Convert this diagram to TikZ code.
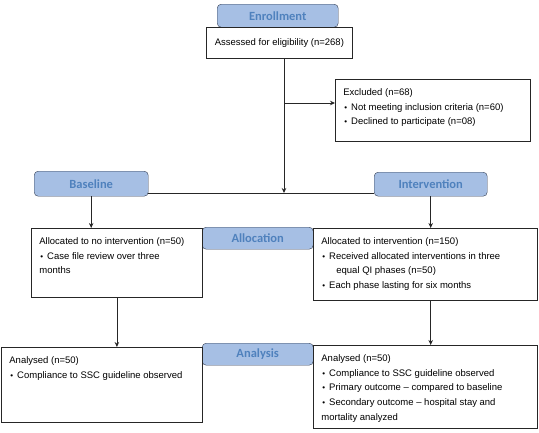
\documentclass[tikz,border=0pt]{standalone}
\usepackage{fontspec}
\usetikzlibrary{arrows.meta}
\setmainfont{Liberation Sans}
\newfontfamily\tabfont{Carlito}
\definecolor{tabfill}{RGB}{166,191,228}
\definecolor{tabtext}{RGB}{79,129,189}
\definecolor{tabline}{RGB}{55,65,85}
\newcommand{\flowtext}[3]{\parbox[t][#2][t]{#1}{\raggedright\fontsize{9.5}{14.7}\selectfont\rule{0pt}{12pt}#3}}
\newcommand{\bul}{\hspace{1pt}{\footnotesize\textbullet}\hspace{4pt}}
\begin{document}
\begin{tikzpicture}[x=1pt,y=-1pt,
  tab/.style={draw=tabline,fill=tabfill,rounded corners=4pt,anchor=north west,inner sep=0pt,
    text=tabtext,font=\tabfont\bfseries\fontsize{12.5}{14}\selectfont},
  panel/.style={draw=black!85,fill=white,anchor=north west,inner xsep=8pt,inner ysep=4pt,line width=0.8pt},
  flow/.style={-{Stealth[length=5pt,width=4.5pt]},line width=0.8pt,black!85}]
  \useasboundingbox (0,0) rectangle (539,432);

  % enrollment
  \node[tab,minimum width=121pt,minimum height=23pt] (enrol) at (217,4) {Enrollment};
  \node[panel,inner sep=0pt,minimum width=146pt,minimum height=31pt] (assess) at (206,27)
    {\fontsize{9.5}{14}\selectfont Assessed for eligibility (n=268)};
  \node[panel] (excl) at (335,79) {\flowtext{179pt}{54pt}{Excluded (n=68)\\
    \bul Not meeting inclusion criteria (n=60)\\
    \bul Declined to participate (n=08)}};

  \coordinate (split) at (284,193);
  \coordinate (branch) at (284,103);
  \draw[flow] (assess.south -| split) -- (split);
  \draw[flow] (branch) -- (branch -| excl.west);

  % allocation
  \node[tab,minimum width=114pt,minimum height=25pt] (base) at (34,171) {Baseline};
  \node[tab,minimum width=113pt,minimum height=24pt] (intv) at (374,172) {Intervention};
  \draw[line width=0.8pt,black!85] (base.east |- split) -- (intv.west |- split);

  \node[tab,minimum width=111pt,minimum height=22pt] (alloc) at (202,227) {Allocation};
  \node[panel] (noint) at (31,228) {\flowtext{155pt}{61pt}{Allocated to no intervention (n=50)\\
    \bul Case file review over three\\ months}};
  \node[panel] (intalloc) at (313,228) {\flowtext{208pt}{64pt}{Allocated to intervention (n=150)\\
    \bul Received allocated interventions in three\\
    \hspace*{15pt}equal QI phases (n=50)\\
    \bul Each phase lasting for six months}};
  \draw[flow] (base.south) -- (base.south |- noint.north);
  \draw[flow] (intv.south) -- (intv.south |- intalloc.north);

  % analysis
  \node[tab,minimum width=111pt,minimum height=22pt] (anal) at (202,343) {Analysis};
  \node[panel] (noanal) at (1,347) {\flowtext{185pt}{67pt}{Analysed (n=50)\\
    \bul Compliance to SSC guideline observed}};
  \node[panel] (intanal) at (313,345) {\flowtext{208pt}{75pt}{Analysed (n=50)\\
    \bul Compliance to SSC guideline observed\\
    \bul Primary outcome -- compared to baseline\\
    \bul Secondary outcome -- hospital stay and\\
    mortality analyzed}};
  \draw[flow] (noint.south) -- (noint.south |- noanal.north);
  \draw[flow] (intv.south |- intalloc.south) -- (intv.south |- intanal.north);
\end{tikzpicture}
\end{document}
